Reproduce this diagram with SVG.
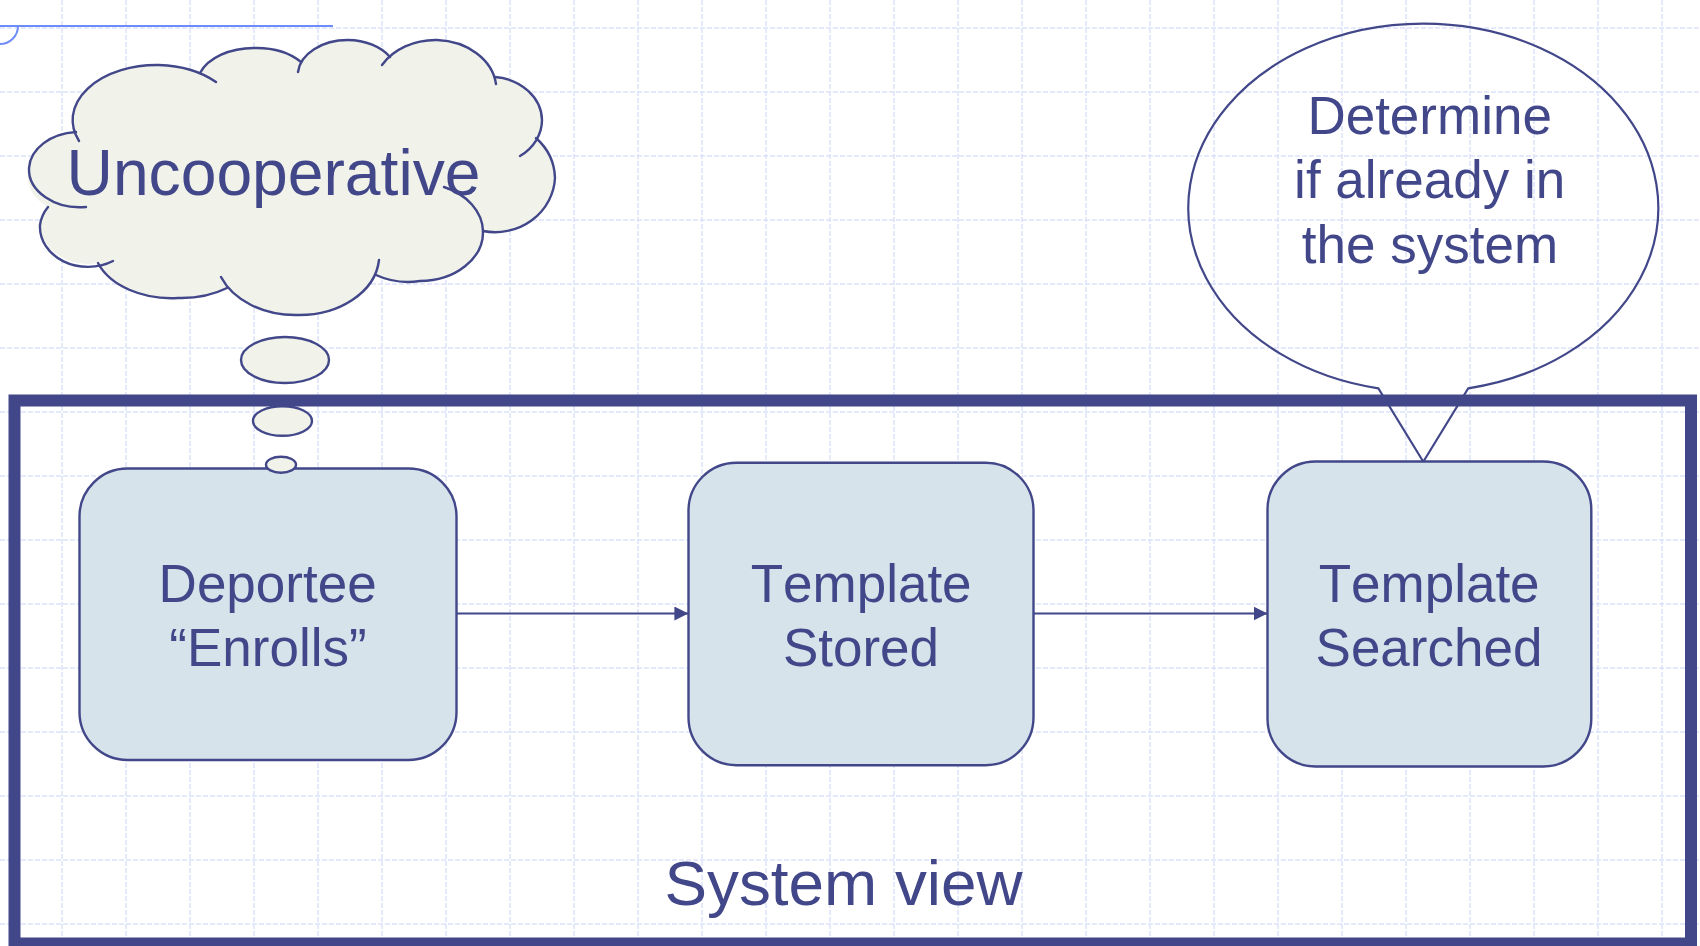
<svg xmlns="http://www.w3.org/2000/svg" width="1700" height="946" viewBox="0 0 1700 946">
  <defs>
    <style>
      .grid { fill: none; stroke: #dbe2fa; stroke-width: 1.5; stroke-dasharray: 5 2; }
      .cloud { fill: #f1f2ea; stroke: #414789; stroke-width: 2.4; }
      .cloud-fill { fill: #f1f2ea; stroke: none; }
      .cloud-edge { fill: none; stroke: #414789; stroke-width: 2.4; stroke-linecap: round; }
      .node { fill: #d6e3eb; stroke: #414789; stroke-width: 2.4; }
      .label { font-family: "Liberation Sans", Arial, sans-serif; fill: #414789; text-anchor: middle; font-kerning: none; }
      .conn { stroke: #414789; stroke-width: 2.2; fill: none; }
    </style>
    <marker id="arrow" markerUnits="userSpaceOnUse" markerWidth="15" markerHeight="15" refX="14" refY="7" orient="auto">
      <path d="M0,0 L14,7 L0,14 Z" fill="#414789"/>
    </marker>
  </defs>

  <rect width="1700" height="946" fill="#ffffff"/>

  <!-- background grid -->
  <path class="grid" d="M62 0V946M126 0V946M190 0V946M254 0V946M318 0V946M382 0V946M446 0V946M510 0V946M574 0V946M638 0V946M702 0V946M766 0V946M830 0V946M894 0V946M958 0V946M1022 0V946M1086 0V946M1150 0V946M1214 0V946M1278 0V946M1342 0V946M1406 0V946M1470 0V946M1534 0V946M1598 0V946M1662 0V946M0 28H1700M0 92H1700M0 156H1700M0 220H1700M0 284H1700M0 348H1700M0 412H1700M0 476H1700M0 540H1700M0 604H1700M0 668H1700M0 732H1700M0 796H1700M0 860H1700M0 924H1700"/>

  <!-- header rule -->
  <g id="header-rule" fill="none" stroke="#6e8cf7" stroke-width="2">
    <line x1="0" y1="26" x2="333" y2="26"/>
    <path d="M18 26 A18 18 0 0 1 0 44"/>
  </g>

  <!-- thought cloud -->
  <g id="thought-cloud">
    <path class="cloud-fill" d="M76,132 A84 55 0 0 1 159,65 A84 55 0 0 1 200,73 A57 37 0 0 1 255,48 A57 37 0 0 1 301,62 A50 35 0 0 1 348,40 A50 35 0 0 1 390,57 A62 50 0 0 1 437,40 A62 50 0 0 1 495,77 A52 44 0 0 1 542,120 A52 44 0 0 1 536,138 A60 57 0 0 1 555,178 A60 57 0 0 1 483,231 A63 49 0 0 1 420,281 A63 49 0 0 1 376,275 A80 60 0 0 1 296,315 A80 60 0 0 1 227,288 A78 53 0 0 1 178,298 A78 53 0 0 1 98,263 A48 40 0 0 1 40,225 A48 40 0 0 1 48,207 A51 38 0 0 1 29,168 A51 38 0 0 1 76,132 Z"/>
    <path class="cloud-edge" d="M79,141 A84 55 0 0 1 159,65 A84 55 0 0 1 216,82"/>
    <path class="cloud-edge" d="M200,73 A57 37 0 0 1 255,48 A57 37 0 0 1 301,62"/>
    <path class="cloud-edge" d="M298,72 A50 35 0 0 1 348,40 A50 35 0 0 1 390,57"/>
    <path class="cloud-edge" d="M382,65 A62 50 0 0 1 437,40 A62 50 0 0 1 496,84"/>
    <path class="cloud-edge" d="M495,77 A52 44 0 0 1 542,120 A52 44 0 0 1 520,156"/>
    <path class="cloud-edge" d="M536,138 A60 57 0 0 1 555,178 A60 57 0 0 1 483,231"/>
    <path class="cloud-edge" d="M444,187 A63 49 0 0 1 483,231 A63 49 0 0 1 420,281 A63 49 0 0 1 376,275"/>
    <path class="cloud-edge" d="M379,260 A80 60 0 0 1 296,315 A80 60 0 0 1 221,277"/>
    <path class="cloud-edge" d="M227,288 A78 53 0 0 1 178,298 A78 53 0 0 1 98,263"/>
    <path class="cloud-edge" d="M113,261 A48 40 0 0 1 40,225 A48 40 0 0 1 48,207"/>
    <path class="cloud-edge" d="M86,207 A51 38 0 0 1 29,168 A51 38 0 0 1 76,132"/>
    <text class="label" x="273.5" y="195" font-size="64.2">Uncooperative</text>
    <ellipse class="cloud" cx="285" cy="360" rx="44" ry="23"/>
    <ellipse class="cloud" cx="282.5" cy="421" rx="29.5" ry="14.8"/>
  </g>

  <!-- speech bubble -->
  <g id="speech-bubble">
    <path fill="none" stroke="#414789" stroke-width="2.2" stroke-linejoin="miter" d="M1468.3,388.3 A235 184 0 1 0 1378.3,388.3 L1423.3,461.7 Z"/>
    <text class="label" font-size="53">
      <tspan x="1437" y="133.5">Determine</tspan>
      <tspan x="1437" y="198">if already in</tspan>
      <tspan x="1430" y="262.5">the system</tspan>
    </text>
  </g>

  <!-- system boundary -->
  <g id="system-view">
    <rect x="14.5" y="400.5" width="1676.5" height="543" fill="none" stroke="#424789" stroke-width="12"/>
    <text class="label" x="843.5" y="905" font-size="63.8">System view</text>
  </g>

  <!-- connectors -->
  <g id="connectors">
    <line class="conn" x1="457" y1="613.5" x2="688.4" y2="613.5" marker-end="url(#arrow)"/>
    <line class="conn" x1="1034" y1="613.5" x2="1267.5" y2="613.5" marker-end="url(#arrow)"/>
  </g>

  <!-- process nodes -->
  <g id="node-enroll">
    <rect class="node" x="79.5" y="468.5" width="377" height="291.5" rx="48" ry="48"/>
    <text class="label" font-size="53">
      <tspan x="275" y="601.7">Deportee</tspan>
      <tspan x="268" y="666">“Enrolls”</tspan>
    </text>
  </g>

  <g id="node-stored">
    <rect class="node" x="688.5" y="462.7" width="345" height="302.5" rx="48" ry="48"/>
    <text class="label" font-size="53">
      <tspan x="868.5" y="602.3">Template</tspan>
      <tspan x="861" y="666">Stored</tspan>
    </text>
  </g>

  <g id="node-searched">
    <rect class="node" x="1267.5" y="461.5" width="323.8" height="305" rx="48" ry="48"/>
    <text class="label" font-size="53">
      <tspan x="1436.5" y="602">Template</tspan>
      <tspan x="1429" y="666">Searched</tspan>
    </text>
  </g>

  <!-- smallest thought bubble sits over the first node -->
  <g id="thought-dot">
    <ellipse class="cloud" cx="281" cy="464.7" rx="15" ry="8"/>
  </g>
</svg>
